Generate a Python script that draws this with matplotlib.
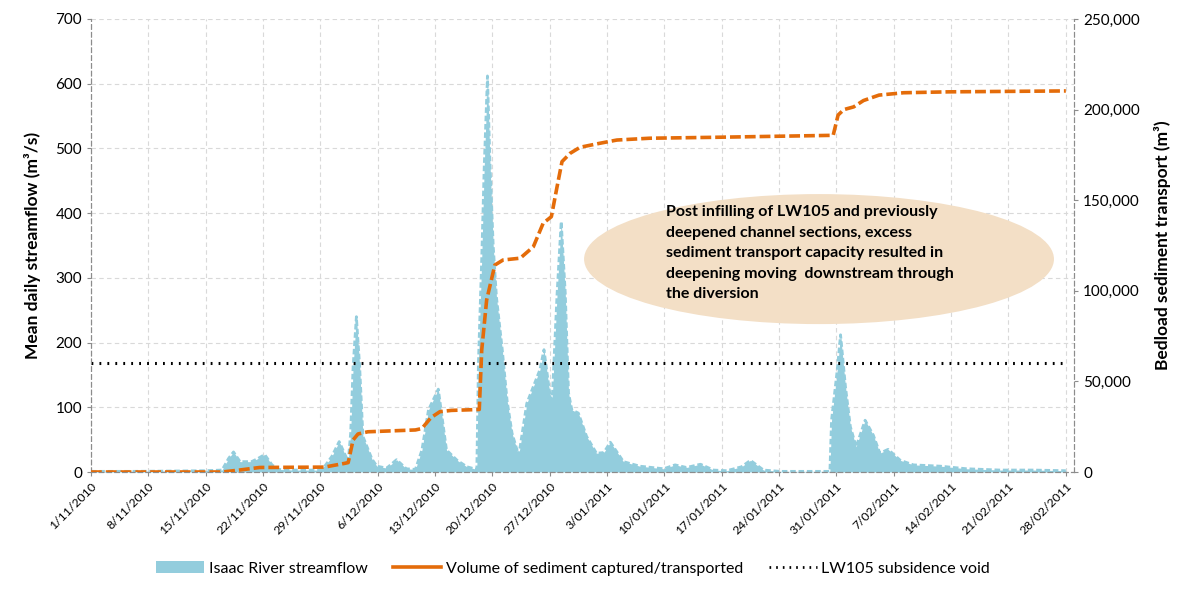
import matplotlib
matplotlib.use("Agg")
import matplotlib.pyplot as plt
from matplotlib.lines import Line2D
from matplotlib.patches import Ellipse, Patch
from matplotlib.ticker import FuncFormatter
import pandas as pd

# streamflow (days after 1/11/2010, m3/s)
flow_day = [0, 5, 10, 13.9, 16.0, 16.8, 17.4, 18.2, 19.6, 20.4, 21.2, 22.1, 22.9, 25.0,
            27.8, 28.6, 29.4, 30.3, 31.4, 31.7, 32.0, 32.4, 32.8, 33.2, 33.7, 34.3,
            34.9, 36.1, 37.3, 38.5, 39.6, 40.4, 41.2, 42.4, 43.4, 44.7, 45.9, 47.1,
            47.3, 47.7, 48.0, 48.4, 48.7, 49.1, 49.5, 50.2, 50.8, 51.4, 52.2, 52.4,
            53.2, 54.0, 54.8, 55.3, 56.0, 56.3, 56.9, 57.4, 57.9, 58.3, 58.7, 59.5,
            60.5, 61.7, 62.6, 63.4, 65.0, 67.0, 69.9, 71.3, 72.7, 74.4, 76.0, 77.6,
            79.4, 80.5, 82.1, 84.1, 90.2, 90.4, 91.1, 91.5, 92.1, 92.7, 93.4, 94.5,
            95.5, 96.3, 97.3, 98.8, 100.4, 103.7, 106.9, 111.0, 115.0, 119.0]
flow = [1, 1, 1.5, 2, 3, 21, 31, 16, 16, 21, 27, 11, 4, 3,
        3, 10, 24, 47, 16, 60, 163, 240, 163, 55, 39, 20,
        9, 6, 19, 5, 4, 34, 96, 128, 34, 18, 8, 4,
        170, 330, 470, 612, 480, 350, 270, 190, 110, 60, 26, 40,
        106, 132, 158, 189, 122, 111, 276, 387, 276, 122, 96, 91,
        55, 29, 30, 46, 16, 9, 5, 11, 7, 12, 3, 2,
        8, 18, 3, 1, 1, 80, 158, 212, 132, 70, 39, 80,
        57, 29, 35, 18, 11, 9, 5, 3, 3, 2]

# cumulative sediment volume (m3)
sed_day = [0, 16.0, 18.0, 20.6, 28.5, 31.0, 31.4, 32.0, 32.6, 33.8, 39.6, 40.4, 41.5,
           42.6, 44.0, 47.4, 47.7, 48.3, 49.3, 50.3, 52.4, 54.0, 55.2, 56.2, 56.9,
           57.5, 58.5, 59.7, 62.1, 64.2, 68.2, 76.0, 90.6, 91.2, 91.9, 93.1, 94.3,
           96.2, 99.2, 104.7, 119.0]
sediment = [0, 0, 1000, 2500, 2700, 4800, 5200, 17700, 21000, 22200, 23200, 24000, 30000,
            33300, 34000, 34500, 67300, 94900, 114200, 117000, 118000, 124300, 137300,
            140900, 157500, 171300, 175900, 179200, 181400, 183200, 184200, 184700,
            185800, 197000, 200000, 201500, 205000, 208000, 209300, 209800, 210300]

void_level = 168

tick_dates = pd.date_range("2010-11-01", "2011-02-28", freq="7D")
tick_labels = [f"{d.day}/{d.month:02d}/{d.year}" for d in tick_dates]
tick_days = [(d - tick_dates[0]).days for d in tick_dates]

plt.rcParams["font.family"] = ["Lato", "DejaVu Sans"]

blue = "#93CDDD"
orange = "#E46C0A"
spine_col = "#8c8c8c"

fig = plt.figure(figsize=(11.89, 5.90), dpi=100)
ax = fig.add_axes([0.0765, 0.2, 0.8268, 0.7678])
ax2 = ax.twinx()

ax.fill_between(flow_day, flow, 0, color=blue, lw=0, zorder=2)
ax.plot(flow_day, flow, color=blue, lw=2, ls=(0, (2, 1)), zorder=2)
ax.hlines(void_level, flow_day[0], flow_day[-1], color="black", lw=2.2,
          linestyles=(0, (0.6, 2.0)), zorder=4)

ax2.plot(sed_day, sediment, color=orange, lw=2.6, ls=(0, (3, 1.1)), zorder=5)

ax.set_xlim(0, 120)
ax.set_ylim(0, 700)
ax2.set_ylim(0, 250000)
ax.set_yticks(range(0, 701, 100))
ax2.set_yticks(range(0, 250001, 50000))
ax2.yaxis.set_major_formatter(FuncFormatter(lambda v, p: f"{int(v):,}"))

ax.set_xticks(tick_days)
ax.set_xticklabels(tick_labels, rotation=45, ha="right", rotation_mode="anchor", fontsize=8.8)
ax.tick_params(axis="x", length=3, color=spine_col, pad=3)
ax.tick_params(axis="y", labelsize=11, length=3, color=spine_col)
ax2.tick_params(axis="y", labelsize=11, length=3, color=spine_col)

ax.grid(True, color="#d9d9d9", ls=(0, (4, 3)), lw=0.8, zorder=0)
ax.set_axisbelow(True)

for a in (ax, ax2):
    a.spines["top"].set_visible(False)
    for s in ("left", "right", "bottom"):
        a.spines[s].set_color(spine_col)
        a.spines[s].set_linestyle((0, (4, 3)))
        a.spines[s].set_linewidth(0.8)

ax.set_ylabel("Mean daily streamflow (m³/s)", fontsize=12.5, fontweight="bold", labelpad=10)
ax2.set_ylabel("Bedload sediment transport (m³)", fontsize=12.5, fontweight="bold", labelpad=10)

ell = Ellipse((0.7406, 0.47), 0.478, 0.287, transform=ax.transAxes,
              facecolor="#F3DFC6", edgecolor="none", zorder=3)
ax.add_patch(ell)
ax.text(0.585, 0.483,
        "Post infilling of LW105 and previously\n"
        "deepened channel sections, excess\n"
        "sediment transport capacity resulted in\n"
        "deepening moving  downstream through\n"
        "the diversion",
        transform=ax.transAxes, fontsize=11.5, fontweight="bold", va="center",
        ha="left", linespacing=1.6, zorder=6)

handles = [
    Patch(facecolor=blue, edgecolor="none"),
    Line2D([], [], color=orange, lw=2.6),
    Line2D([], [], color="black", lw=2, ls=(0, (0.6, 1.8))),
]
labels = ["Isaac River streamflow", "Volume of sediment captured/transported",
          "LW105 subsidence void"]
fig.legend(handles, labels, loc="lower center", bbox_to_anchor=(0.482, 0.0), ncol=3,
           frameon=False, fontsize=11.5, handlelength=3.0, handletextpad=0.3,
           columnspacing=1.6)

fig.savefig("out.png", dpi=100)
plt.close(fig)
